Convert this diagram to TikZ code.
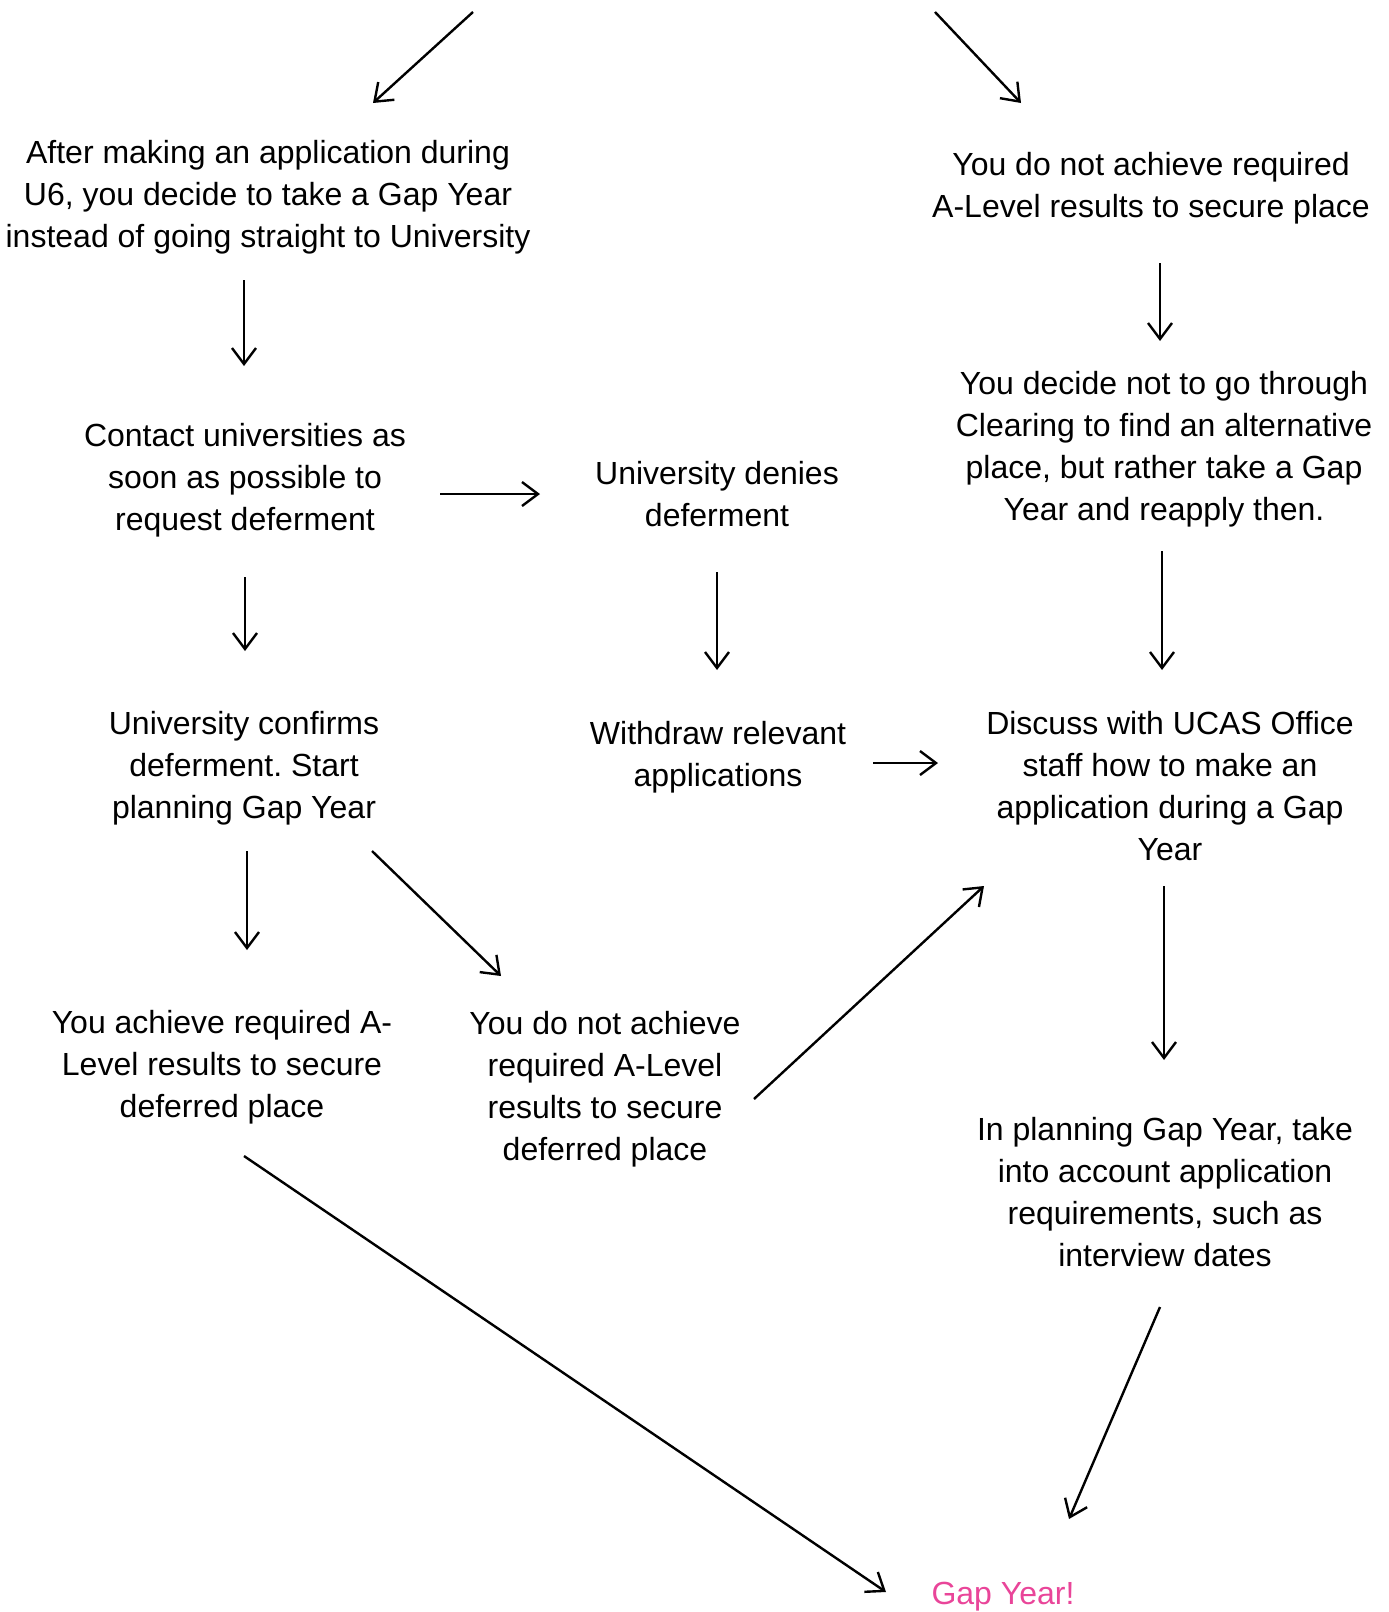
\documentclass[tikz,border=0pt]{standalone}
\usepackage{fontspec}
\setmainfont{Liberation Sans}
\usepackage{xcolor}
\usepackage{tikz}
\usetikzlibrary{arrows.meta}
\definecolor{gappink}{RGB}{233,69,153}
\frenchspacing

\tikzset{
  step text/.style={align=center, inner sep=0pt, font=\fontsize{32}{42}\selectfont},
  arr/.style={-{Straight Barb[length=16pt,width=24pt]}, line width=2.4pt}
}

\begin{document}
\begin{tikzpicture}[x=1pt,y=-1pt]

\useasboundingbox (0,0) rectangle (1389,1612);

% Steps
\node[step text] (start) at (268,197) {After making an application during\\U6, you decide to take a Gap Year\\instead of going straight to University};
\node[step text] (fail) at (1151,188) {You do not achieve required\\A-Level results to secure place};
\node[step text] (contact) at (245,480) {Contact universities as\\soon as possible to\\request deferment};
\node[step text] (clearing) at (1164,449) {You decide not to go through\\Clearing to find an alternative\\place, but rather take a Gap\\Year and reapply then.};
\node[step text] (denies) at (717,494) {University denies\\deferment};
\node[step text] (confirms) at (244,768) {University confirms\\deferment. Start\\planning Gap Year};
\node[step text] (withdraw) at (718,757) {Withdraw relevant\\applications};
\node[step text] (discuss) at (1170,786) {Discuss with UCAS Office\\staff how to make an\\application during a Gap\\Year};
\node[step text] (achieve) at (222,1067) {You achieve required A-\\Level results to secure\\deferred place};
\node[step text] (notachieve) at (605,1089) {You do not achieve\\required A-Level\\results to secure\\deferred place};
\node[step text] (planning) at (1165,1192) {In planning Gap Year, take\\into account application\\requirements, such as\\interview dates};
\node[step text, text=gappink] (gap) at (1003,1597) {Gap Year!};

% Incoming arrows
\coordinate (top-l) at (473,12);
\coordinate (top-r) at (935,12);
\draw[arr] (top-l) -- ([shift={(105,-94)}]start.center);
\draw[arr] (top-r) -- ([shift={(-130,-85)}]fail.center);

% Arrows between steps
\draw[arr] ([shift={(-24,83)}]start.center) -- ([shift={(-1,-114)}]contact.center);
\draw[arr] ([shift={(9,75)}]fail.center) -- ([shift={(-4,-108)}]clearing.center);
\draw[arr] ([shift={(195,14)}]contact.center) -- ([shift={(-177,0)}]denies.center);
\draw[arr] ([shift={(0,97)}]contact.center) -- ([shift={(1,-117)}]confirms.center);
\draw[arr] ([shift={(0,78)}]denies.center) -- ([shift={(-1,-87)}]withdraw.center);
\draw[arr] ([shift={(-2,102)}]clearing.center) -- ([shift={(-8,-116)}]discuss.center);
\draw[arr] ([shift={(155,6)}]withdraw.center) -- ([shift={(-232,-23)}]discuss.center);
\draw[arr] ([shift={(3,83)}]confirms.center) -- ([shift={(25,-117)}]achieve.center);
\draw[arr] ([shift={(128,83)}]confirms.center) -- ([shift={(-104,-113)}]notachieve.center);
\draw[arr] ([shift={(-6,100)}]discuss.center) -- ([shift={(-1,-132)}]planning.center);
\draw[arr] ([shift={(149,10)}]notachieve.center) -- ([shift={(-186,100)}]discuss.center);

% Into Gap Year
\draw[arr] ([shift={(22,89)}]achieve.center) -- ([shift={(-117,-5)}]gap.center);
\draw[arr] ([shift={(-5,115)}]planning.center) -- ([shift={(66,-78)}]gap.center);

\end{tikzpicture}
\end{document}
